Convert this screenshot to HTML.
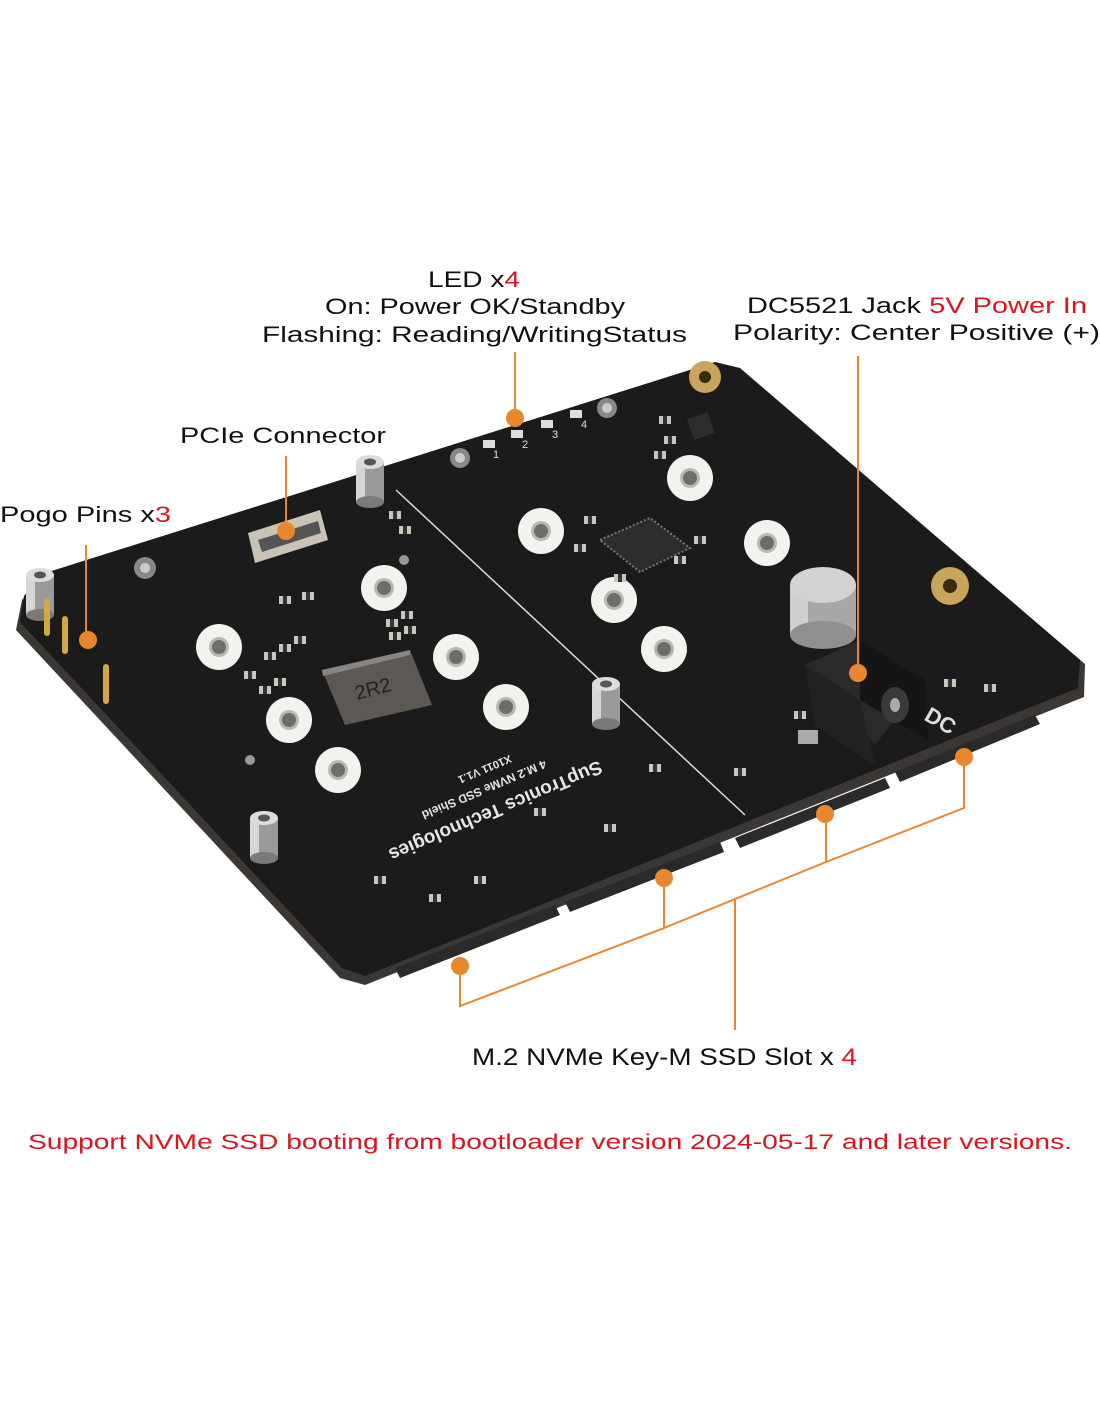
<!DOCTYPE html>
<html><head><meta charset="utf-8"><style>
html,body{margin:0;padding:0;background:#fff}
svg{display:block}
text{font-family:"Liberation Sans",sans-serif}
</style></head><body>
<svg width="1100" height="1422" viewBox="0 0 1100 1422" xmlns="http://www.w3.org/2000/svg">
<defs>
<g id="hole"><circle r="23" fill="#f2f2ee"/><circle r="10" fill="#b9b9b4"/><circle r="7" fill="#6d6d6a"/></g>
<g id="stand"><rect x="-14" y="-10" width="28" height="40" fill="#9a9a98"/><rect x="-14" y="-10" width="9" height="40" fill="#d6d6d4"/><ellipse cx="0" cy="-10" rx="14" ry="7" fill="#dcdcda"/><ellipse cx="0" cy="-10" rx="6" ry="3.5" fill="#555"/><ellipse cx="0" cy="30" rx="14" ry="6" fill="#7a7a78"/></g>
<g id="smd"><rect x="-6" y="-4" width="12" height="8" fill="#c9c6bd"/><rect x="-2" y="-4" width="4" height="8" fill="#333"/></g>
</defs>

<!-- Board -->
<polygon points="22,600 42,578 715,366 742,372 1085,664 1084,697 365,985 340,978 16,630" fill="#3a3734"/>
<polygon points="24,596 42,574 715,362 740,368 1080,660 1078,688 365,976 342,968 20,622" fill="#1b1b1b"/>
<!-- bottom edge connectors -->
<polygon points="395,968 555,905 560,915 400,978" fill="#2a2a2a"/>
<polygon points="565,902 720,842 724,852 570,912" fill="#2a2a2a"/>
<polygon points="735,838 885,778 890,788 740,848" fill="#2a2a2a"/>
<polygon points="895,772 1035,715 1040,724 900,782" fill="#2a2a2a"/>
<!-- divider -->
<line x1="396" y1="490" x2="745" y2="815" stroke="#ddd" stroke-width="1.5"/>

<!-- holes -->
<use href="#hole" x="384" y="588"/>
<use href="#hole" x="219" y="647"/>
<use href="#hole" x="456" y="657"/>
<use href="#hole" x="289" y="720"/>
<use href="#hole" x="506" y="707"/>
<use href="#hole" x="338" y="770"/>
<use href="#hole" x="541" y="531"/>
<use href="#hole" x="614" y="600"/>
<use href="#hole" x="664" y="649"/>
<use href="#hole" x="690" y="478"/>
<use href="#hole" x="767" y="543"/>
<!-- gold holes -->
<circle cx="705" cy="377" r="16" fill="#c8a55a"/><circle cx="705" cy="377" r="6" fill="#3a2a10"/>
<circle cx="950" cy="586" r="19" fill="#c8a55a"/><circle cx="950" cy="586" r="7" fill="#3a2a10"/>
<circle cx="607" cy="408" r="10" fill="#888"/><circle cx="607" cy="408" r="5" fill="#ccc"/>
<circle cx="460" cy="458" r="10" fill="#888"/><circle cx="460" cy="458" r="5" fill="#ccc"/>
<circle cx="145" cy="568" r="11" fill="#888"/><circle cx="145" cy="568" r="5" fill="#ccc"/>
<circle cx="250" cy="760" r="5" fill="#999"/>
<circle cx="404" cy="560" r="5" fill="#999"/>

<!-- LEDs -->
<g fill="#ddd"><rect x="483" y="440" width="12" height="8"/><rect x="511" y="430" width="12" height="8"/><rect x="541" y="420" width="12" height="8"/><rect x="570" y="410" width="12" height="8"/></g>
<g fill="#ddd" font-size="11"><text x="493" y="458">1</text><text x="522" y="448">2</text><text x="552" y="438">3</text><text x="581" y="428">4</text></g>

<!-- PCIe connector -->
<polygon points="248,533 320,510 328,540 255,563" fill="#c9c3b5"/>
<polygon points="258,540 318,521 321,533 262,552" fill="#555"/>

<!-- inductor 2R2 -->
<polygon points="322,670 410,650 432,705 345,725" fill="#5c5955"/>
<polygon points="322,670 410,650 410,655 323,676" fill="#8a8580"/>
<text x="355" y="695" font-size="20" fill="#222" transform="rotate(-15 375 690)">2R2</text>
<!-- smd caps -->
<g>
<use href="#smd" x="270" y="656"/><use href="#smd" x="285" y="648"/><use href="#smd" x="300" y="640"/>
<use href="#smd" x="250" y="675"/><use href="#smd" x="265" y="690"/><use href="#smd" x="280" y="682"/>
<use href="#smd" x="392" y="623"/><use href="#smd" x="407" y="615"/><use href="#smd" x="395" y="636"/><use href="#smd" x="410" y="630"/>
<use href="#smd" x="285" y="600"/><use href="#smd" x="308" y="596"/>
<use href="#smd" x="395" y="515"/><use href="#smd" x="405" y="530"/>
<use href="#smd" x="590" y="520"/><use href="#smd" x="580" y="548"/><use href="#smd" x="620" y="578"/><use href="#smd" x="680" y="560"/><use href="#smd" x="700" y="540"/>
<use href="#smd" x="665" y="420"/><use href="#smd" x="670" y="440"/><use href="#smd" x="660" y="455"/>
<use href="#smd" x="800" y="715"/><use href="#smd" x="950" y="683"/><use href="#smd" x="990" y="688"/>
<use href="#smd" x="380" y="880"/><use href="#smd" x="480" y="880"/><use href="#smd" x="540" y="812"/><use href="#smd" x="610" y="828"/><use href="#smd" x="655" y="768"/><use href="#smd" x="740" y="772"/><use href="#smd" x="435" y="898"/>
</g>
<!-- chip -->
<polygon points="600,540 650,518 690,548 640,572" fill="#2c2c2c" stroke="#777" stroke-width="2" stroke-dasharray="2 2"/>
<rect x="690" y="415" width="22" height="22" fill="#2c2c2c" transform="rotate(-20 701 426)"/>
<!-- capacitor -->
<rect x="790" y="585" width="66" height="50" fill="#a7a7a5"/>
<rect x="790" y="585" width="18" height="50" fill="#cfcfcd"/>
<ellipse cx="823" cy="585" rx="33" ry="18" fill="#d2d2d0"/>
<ellipse cx="823" cy="635" rx="33" ry="14" fill="#8f8f8d"/>
<!-- DC jack -->
<polygon points="805,665 860,640 925,680 875,745" fill="#2a2a2a"/>
<polygon points="860,640 925,680 928,740 860,700" fill="#151515"/>
<polygon points="805,665 860,700 875,765 815,725" fill="#222"/>
<ellipse cx="895" cy="705" rx="14" ry="18" fill="#3a3a3a"/>
<ellipse cx="895" cy="705" rx="5" ry="7" fill="#aaa"/>
<rect x="798" y="730" width="20" height="14" fill="#aaa"/>
<text x="925" y="728" font-size="22" font-weight="bold" fill="#ddd" transform="rotate(30 940 720)">DC</text>

<!-- silkscreen -->
<g fill="#ddd" font-weight="bold">
<text x="330" y="860" font-size="20" transform="rotate(-23 465 820) scale(-1,-1) translate(-930,-1640)"></text>
</g>
<g transform="translate(470,815) rotate(157)" fill="#e5e5e5" font-weight="bold">
<text x="-140" y="0" font-size="19">SupTronics Technologies</text>
<text x="-90" y="22" font-size="12">4 M.2 NVMe SSD Shield</text>
<text x="-60" y="40" font-size="11">X1011 V1.1</text>
</g>

<!-- standoffs -->
<use href="#stand" x="370" y="472"/>
<use href="#stand" x="40" y="585"/>
<use href="#stand" x="606" y="694"/>
<use href="#stand" x="264" y="828"/>
<!-- pogo pins -->
<g fill="#d3a843">
<rect x="44" y="598" width="6" height="38" rx="3"/>
<rect x="62" y="616" width="6" height="38" rx="3"/>
<rect x="103" y="664" width="6" height="40" rx="3"/>
</g>

<!-- leaders -->
<g stroke="#e8872e" stroke-width="2" fill="none">
<line x1="515" y1="352" x2="515" y2="418"/>
<line x1="858" y1="356" x2="858" y2="673"/>
<line x1="286" y1="456" x2="286" y2="531"/>
<line x1="86" y1="545" x2="86" y2="640"/>
<polyline points="460,966 460,1006 664,928 664,878"/>
<polyline points="664,928 826,862 826,814"/>
<polyline points="826,862 964,808 964,757"/>
<line x1="735" y1="900" x2="735" y2="1030"/>
</g>
<g fill="#e8872e">
<circle cx="515" cy="418" r="9"/><circle cx="858" cy="673" r="9"/><circle cx="286" cy="531" r="9"/><circle cx="88" cy="640" r="9"/>
<circle cx="460" cy="966" r="9"/><circle cx="664" cy="878" r="9"/><circle cx="825" cy="814" r="9"/><circle cx="964" cy="757" r="9"/>
</g>

<!-- labels -->
<g font-size="22" fill="#111">
<text x="428" y="287" textLength="92" lengthAdjust="spacingAndGlyphs">LED x<tspan fill="#d9161c">4</tspan></text>
<text x="325" y="314" textLength="300" lengthAdjust="spacingAndGlyphs">On: Power OK/Standby</text>
<text x="262" y="342" textLength="425" lengthAdjust="spacingAndGlyphs">Flashing: Reading/WritingStatus</text>
<text x="747" y="313" textLength="340" lengthAdjust="spacingAndGlyphs">DC5521 Jack <tspan fill="#d9161c">5V Power In</tspan></text>
<text x="733" y="340" textLength="367" lengthAdjust="spacingAndGlyphs">Polarity: Center Positive (+)</text>
<text x="180" y="443" textLength="206" lengthAdjust="spacingAndGlyphs">PCIe Connector</text>
<text x="0" y="522" textLength="171" lengthAdjust="spacingAndGlyphs">Pogo Pins x<tspan fill="#d9161c">3</tspan></text>
<text x="472" y="1065" font-size="24" textLength="385" lengthAdjust="spacingAndGlyphs">M.2 NVMe Key-M SSD Slot x <tspan fill="#d9161c">4</tspan></text>
<text x="28" y="1149" font-size="21" fill="#d9161c" textLength="1044" lengthAdjust="spacingAndGlyphs">Support NVMe SSD booting from bootloader version 2024-05-17 and later versions.</text>
</g>
</svg>
</body></html>
